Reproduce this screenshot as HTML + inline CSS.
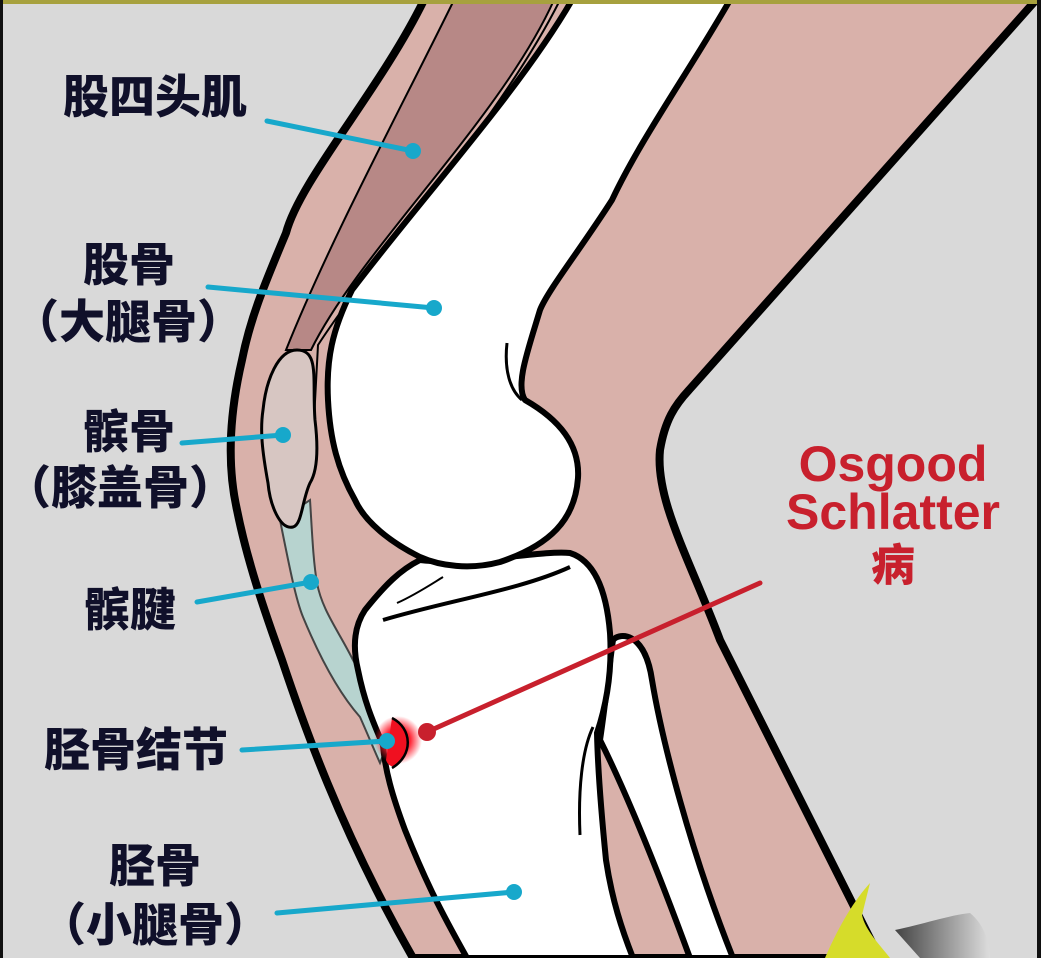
<!DOCTYPE html>
<html><head><meta charset="utf-8"><style>
html,body{margin:0;padding:0;background:#d9d9d9}
svg{display:block}
.cn{font-family:"Liberation Sans","Noto Sans CJK SC",sans-serif;font-weight:900;fill:#10102a;font-size:46px}
.en{font-family:"Liberation Sans",sans-serif;font-weight:bold;fill:#c8202d;font-size:50px}
</style></head><body>
<svg width="1041" height="958" viewBox="0 0 1041 958" xmlns="http://www.w3.org/2000/svg">
<defs>
<radialGradient id="glow"><stop offset="0.5" stop-color="#ff2030"/><stop offset="1" stop-color="#ff2030" stop-opacity="0"/></radialGradient>
<linearGradient id="shoe" x1="0" x2="1"><stop offset="0" stop-color="#444"/><stop offset="1" stop-color="#ddd"/></linearGradient>
</defs>
<rect width="1041" height="958" fill="#d9d9d9"/>

<!-- leg skin -->
<path d="M424,0 C380,90 300,180 286,233 C262,290 250,320 242,360 C228,420 228,470 237,510 C247,560 264,610 282,660 C302,720 340,830 413,958 L880,958 C820,840 760,720 720,640 C690,560 655,500 660,450 C665,420 675,405 689,390 L1036,0 Z" fill="#d9b1aa" stroke="#000" stroke-width="8" stroke-linejoin="round"/>

<!-- quad muscle -->
<path d="M454,0 L554,0 C500,120 360,250 311,350 L286,350 C330,240 400,110 454,0 Z" fill="#b78886" stroke="#000" stroke-width="2"/>
<path d="M560,0 C500,120 380,250 318,345 L314,420" fill="none" stroke="#000" stroke-width="2"/>

<!-- patellar tendon -->
<path d="M280,520 C290,570 296,600 303,617 C325,670 345,700 360,717 C368,735 375,752 380,763 L393,730 C385,715 375,700 353,660 C338,630 322,610 317,583 C313,560 312,530 310,500 Z" fill="#b7d3cf" stroke="#444" stroke-width="2"/>

<!-- patella -->
<path d="M297,350 C320,350 312,380 315,420 C318,445 318,470 310,483 C302,500 302,525 293,527 C280,530 270,505 268,483 C262,450 260,430 263,410 C266,380 278,350 297,350 Z" fill="#d7c6c2" stroke="#000" stroke-width="3"/>

<!-- fibula -->
<path d="M613,640 C620,632 645,632 652,680 C662,740 690,850 733,958 L690,958 C665,890 630,800 600,740 C606,700 610,660 613,640 Z" fill="#fff" stroke="#000" stroke-width="6"/>

<!-- tibia -->
<path d="M420,560 C470,566 540,550 570,553 C592,560 606,585 610,633 C612,665 608,700 597,733 C598,780 603,830 606,860 C612,900 622,930 633,958 L467,958 C440,910 425,880 405,830 C392,795 385,770 383,745 C372,720 364,700 358,670 C352,645 355,625 365,610 C385,585 400,570 420,560 Z" fill="#fff" stroke="#000" stroke-width="6"/>
<path d="M383,620 C450,600 520,590 570,567" fill="none" stroke="#000" stroke-width="4"/>
<path d="M397,603 C415,595 430,585 443,577" fill="none" stroke="#000" stroke-width="2"/>
<path d="M593,727 C582,750 578,790 580,835" fill="none" stroke="#000" stroke-width="3"/>

<!-- femur -->
<path d="M572,0 L730,0 C690,70 640,140 612,200 C580,250 548,290 540,310 C528,350 515,385 525,400 C560,420 580,445 578,478 C575,520 550,545 500,562 C470,570 440,566 420,557 C390,542 365,522 355,500 C338,470 330,440 328,400 C326,360 332,330 352,290 C420,200 520,90 572,0 Z" fill="#fff" stroke="#000" stroke-width="6" stroke-linejoin="round"/>
<path d="M507,343 C504,370 510,390 522,400" fill="none" stroke="#000" stroke-width="3"/>

<!-- tubercle red -->
<circle cx="398" cy="740" r="24" fill="url(#glow)"/>
<path d="M392,718 C410,725 412,750 398,765 C393,768 388,766 386,760 Z" fill="#f01020"/>
<path d="M392,718 C412,728 414,755 392,768" fill="none" stroke="#000" stroke-width="2.5"/>

<!-- shoe -->
<path d="M870,883 C850,905 835,935 825,958 L890,958 C880,945 865,930 862,915 Z" fill="#d6dc2a"/>
<path d="M895,930 C920,925 950,915 970,913 C985,925 990,945 990,958 L920,958 Z" fill="url(#shoe)"/>

<!-- borders -->
<rect x="0" y="0" width="1041" height="4" fill="#a7a13e"/>
<rect x="0" y="0" width="3" height="958" fill="#111"/>
<rect x="1037" y="0" width="4" height="958" fill="#111"/>

<!-- cyan pointers -->
<g stroke="#17a8cb" stroke-width="5" stroke-linecap="round" fill="#17a8cb">
<line x1="267" y1="121" x2="413" y2="151"/><circle cx="413" cy="151" r="8" stroke="none"/>
<line x1="208" y1="287" x2="434" y2="308"/><circle cx="434" cy="308" r="8" stroke="none"/>
<line x1="182" y1="443" x2="283" y2="435"/><circle cx="283" cy="435" r="8" stroke="none"/>
<line x1="197" y1="602" x2="311" y2="582"/><circle cx="311" cy="582" r="8" stroke="none"/>
<line x1="242" y1="750" x2="387" y2="741"/><circle cx="387" cy="741" r="8" stroke="none"/>
<line x1="277" y1="913" x2="514" y2="892"/><circle cx="514" cy="892" r="8" stroke="none"/>
</g>
<!-- red pointer -->
<line x1="760" y1="583" x2="427" y2="732" stroke="#c8202d" stroke-width="5" stroke-linecap="round"/>
<circle cx="427" cy="732" r="9" fill="#c8202d"/>

<!-- labels -->
<g class="cn" text-anchor="middle" dominant-baseline="central">
<text x="155" y="97">股四头肌</text>
<text x="129" y="265">股骨</text>
<text x="128" y="322">（大腿骨）</text>
<text x="129" y="432">髌骨</text>
<text x="120" y="488">（膝盖骨）</text>
<text x="130" y="610">髌腱</text>
<text x="136" y="750">胫骨结节</text>
<text x="155" y="866">胫骨</text>
<text x="155" y="925">（小腿骨）</text>
</g>
<g class="en" text-anchor="middle">
<text x="893" y="481">Osgood</text>
<text x="893" y="529">Schlatter</text>
</g>
<text x="893" y="566" text-anchor="middle" dominant-baseline="central" style="font-family:'Liberation Sans','Noto Sans CJK SC',sans-serif;font-weight:900;font-size:44px;fill:#c8202d">病</text>
</svg>
</body></html>
